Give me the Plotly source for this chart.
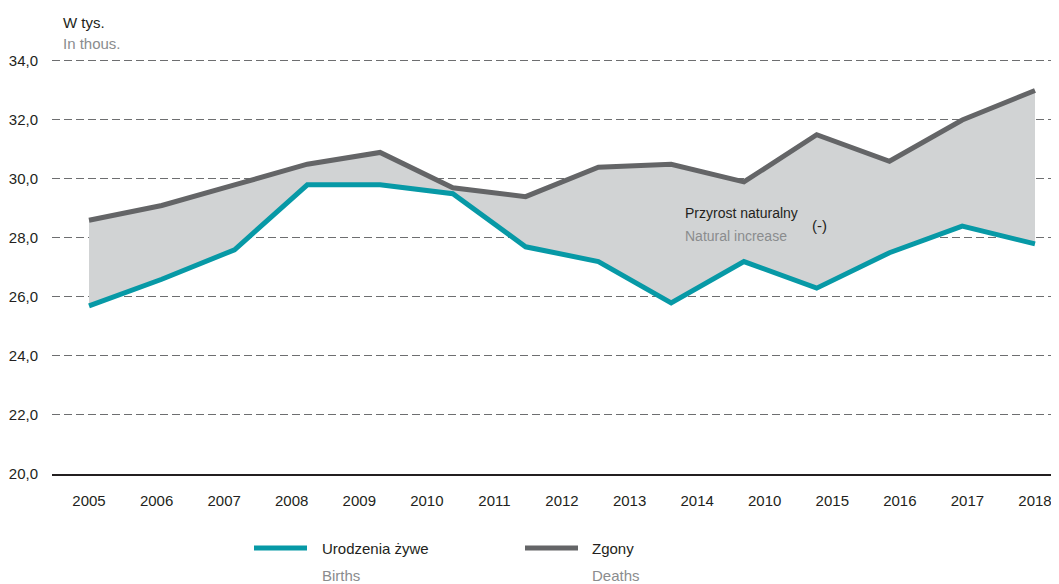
import plotly.graph_objects as go

# ---- data ----
tick_labels = ["2005", "2006", "2007", "2008", "2009", "2010", "2011", "2012",
               "2013", "2014", "2010", "2015", "2016", "2017", "2018"]
births = [25.7, 26.6, 27.6, 29.8, 29.8, 29.5, 27.7, 27.2, 25.8, 27.2, 26.3, 27.5, 28.4, 27.8]
deaths = [28.6, 29.1, 29.8, 30.5, 30.9, 29.7, 29.4, 30.4, 30.5, 29.9, 31.5, 30.6, 32.0, 33.0]
y_ticks = [20, 22, 24, 26, 28, 30, 32, 34]
y_tick_text = ["20,0", "22,0", "24,0", "26,0", "28,0", "30,0", "32,0", "34,0"]

x = list(range(len(births)))
n_pts = len(births)
n_lab = len(tick_labels)
tick_pos = [i * (n_pts - 1) / (n_lab - 1) for i in range(n_lab)]

FONT = "Liberation Sans Narrow, Arial Narrow, Liberation Sans, Arial, sans-serif"
FS = 15
TEAL = "#0799a6"
GREY = "#646567"
FILL = "#d1d3d4"
TEXT = "#231f20"
SUB = "#8a8c8e"

# The page has an 8px body margin; the figure is sized/offset to compensate.
OFF = 8
W, H = 1059 - OFF, 584 - OFF
L, R, T, B = 52 - OFF, 0, 58 - OFF, 584 - 474
pw, ph = W - L - R, H - T - B

def px(xp):  # reference-page x -> paper
    return (xp - OFF - L) / pw

def py(yp):  # reference-page y -> paper
    return (H - B - (yp - OFF)) / ph

fig = go.Figure()
# fill between the lines
fig.add_trace(go.Scatter(x=x, y=deaths, mode="lines", line=dict(width=0, color=GREY),
                         showlegend=False, hoverinfo="skip"))
fig.add_trace(go.Scatter(x=x, y=births, mode="lines", line=dict(width=0, color=TEAL),
                         fill="tonexty", fillcolor=FILL, showlegend=False, hoverinfo="skip"))
# lines
fig.add_trace(go.Scatter(x=x, y=births, mode="lines", name="Urodzenia żywe",
                         line=dict(width=5, color=TEAL), showlegend=False))
fig.add_trace(go.Scatter(x=x, y=deaths, mode="lines", name="Zgony",
                         line=dict(width=5, color=GREY), showlegend=False))

# x range so that first point sits at page px 89 and last at 1035
unit = (1035 - 89) / (n_pts - 1)
x0 = -(89 - 52) / unit
x1 = (n_pts - 1) + (1059 - 1035) / unit

fig.update_xaxes(range=[x0, x1], tickmode="array", tickvals=tick_pos, ticktext=tick_labels,
                 showgrid=False, zeroline=False, showline=True, linecolor=TEXT, linewidth=1.5,
                 ticks="", ticklabelstandoff=12,
                 tickfont=dict(family=FONT, size=FS, color=TEXT))
fig.update_yaxes(range=[20, 34.1], tickmode="array", tickvals=y_ticks, ticktext=y_tick_text,
                 showgrid=True, gridcolor="#6d6e70", gridwidth=1.2, griddash="8px,4px",
                 zeroline=False, showline=False, ticks="", ticklabelstandoff=13,
                 tickfont=dict(family=FONT, size=FS, color=TEXT))

ann = []
def add_text(text, xp, yp, color, size=FS, anchor="left"):
    ann.append(dict(text=text, x=px(xp), y=py(yp), xref="paper", yref="paper",
                    xanchor=anchor, yanchor="middle", showarrow=False,
                    font=dict(family=FONT, size=size, color=color)))

add_text("W tys.", 61, 22, TEXT)
add_text("In thous.", 61, 43, SUB)
add_text("Przyrost naturalny", 683, 213, TEXT, size=14)
add_text("Natural increase", 683, 236, SUB, size=14)
add_text("(-)", 810, 225, TEXT)
add_text("Urodzenia żywe", 320, 548, TEXT)
add_text("Births", 320, 575, SUB)
add_text("Zgony", 590, 548, TEXT)
add_text("Deaths", 590, 575, SUB)

shapes = [
    dict(type="line", xref="paper", yref="paper", x0=px(254), x1=px(307), y0=py(548), y1=py(548),
         line=dict(color=TEAL, width=5)),
    dict(type="line", xref="paper", yref="paper", x0=px(525), x1=px(578), y0=py(548), y1=py(548),
         line=dict(color=GREY, width=5)),
]

fig.update_layout(width=W, height=H, margin=dict(l=L, r=R, t=T, b=B),
                  paper_bgcolor="white", plot_bgcolor="white",
                  annotations=ann, shapes=shapes, showlegend=False)

fig.write_html("out.html")
